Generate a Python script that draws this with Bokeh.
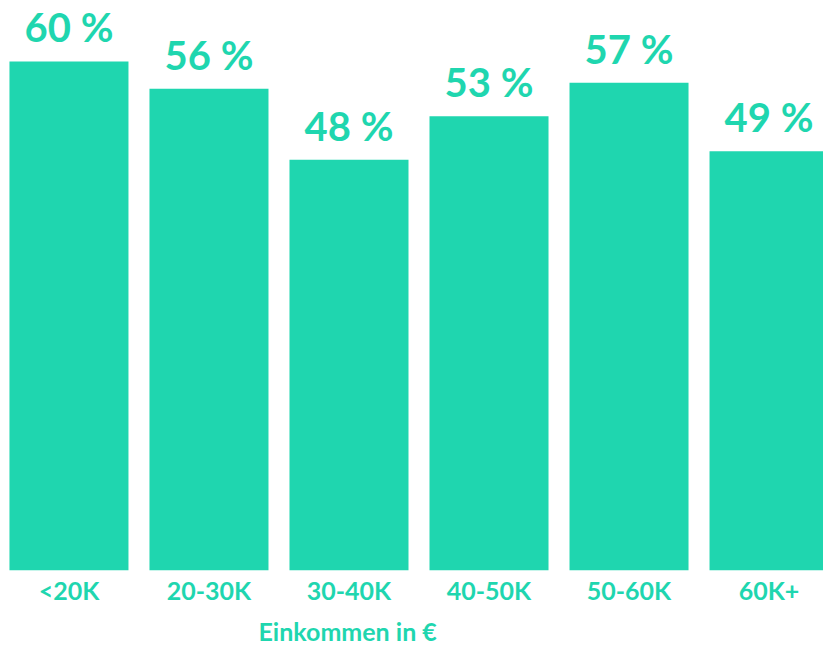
from bokeh.plotting import figure
from bokeh.models import ColumnDataSource, Range1d, FixedTicker, Title, LabelSet
from bokeh.core.properties import value
from bokeh.embed import file_html
from bokeh.resources import INLINE

categories = ["<20K", "20-30K", "30-40K", "40-50K", "50-60K", "60K+"]
values = [59.6, 56.4, 48.1, 53.2, 57.1, 49.1]
labels = ["60 %", "56 %", "48 %", "53 %", "57 %", "49 %"]
axis_title = "Einkommen in €"

COLOR = "#1FD6AF"
FONT = "Lato"

idx = list(range(len(categories)))
src = ColumnDataSource(dict(x=idx, top=values, lab=labels))

p = figure(width=823, height=652, output_backend="svg", toolbar_location=None,
           x_range=Range1d(-0.489, 5.389), y_range=Range1d(0, 66.74),
           min_border_left=0, min_border_right=0, min_border_top=0, min_border_bottom=82)
p.background_fill_color = "white"
p.border_fill_color = "white"
p.outline_line_color = None
p.grid.visible = False
p.yaxis.visible = False

p.vbar(x="x", top="top", width=0.85, bottom=0, source=src, fill_color=COLOR, line_color=None)

p.add_layout(LabelSet(x="x", y="top", text="lab", source=src, text_align="center",
                      text_baseline="alphabetic", y_offset=19, text_color=COLOR,
                      text_font=value(FONT), text_font_style="bold",
                      text_font_size=value("40px")))

ax = p.xaxis[0]
ax.ticker = FixedTicker(ticks=idx)
ax.major_label_overrides = {i: c for i, c in zip(idx, categories)}
ax.axis_line_color = None
ax.major_tick_line_color = None
ax.minor_tick_line_color = None
ax.major_label_text_color = COLOR
ax.major_label_text_font = FONT
ax.major_label_text_font_size = "25px"
ax.major_label_text_font_style = "bold"
ax.major_label_standoff = 4
ax.major_tick_out = 0
ax.major_tick_in = 0

p.add_layout(Title(text=axis_title, align="left", offset=258, text_color=COLOR,
                   text_font=FONT, text_font_size="25px", text_font_style="bold",
                   standoff=13), "below")

open("out.html", "w").write(file_html(p, INLINE))
